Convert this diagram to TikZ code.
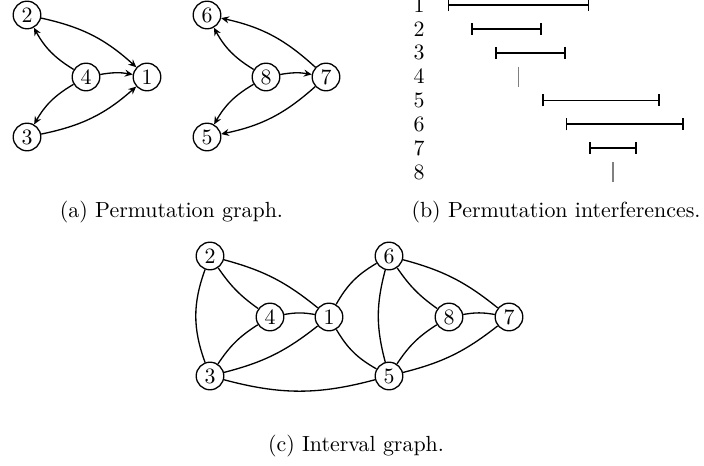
\documentclass[tikz,border=0pt]{standalone}
\usetikzlibrary{arrows.meta}
\begin{document}
\begin{tikzpicture}[x=0.4566pt,y=-0.4566pt,
  vtx/.style={draw,circle,line width=0.6pt,inner sep=0pt,minimum size=12.6pt,font=\normalsize},
  arcsty/.style={line width=0.6pt,-{Stealth[length=3.6pt,width=3.2pt,inset=1.2pt]}},
  edgsty/.style={line width=0.6pt},
  barsty/.style={line width=0.75pt,{Bar[width=5.5pt]}-{Bar[width=5.5pt]}},
  ticksty/.style={line width=0.6pt,draw=gray},
  lblsty/.style={inner sep=0pt},
  captxt/.style={inner sep=0pt}]
\useasboundingbox (0,0) rectangle (704,466);
% (a) permutation graph
\node[vtx] (a2) at (27,15) {2};
\node[vtx] (a4) at (86,77) {4};
\node[vtx] (a1) at (147,77) {1};
\node[vtx] (a3) at (27,137) {3};
\draw[arcsty] (a2) to[bend left=15] (a1);
\draw[arcsty] (a4) to[bend left=15] (a2);
\draw[arcsty] (a4) to[bend left=10] (a1);
\draw[arcsty] (a4) to[bend right=15] (a3);
\draw[arcsty] (a3) to[bend right=15] (a1);
\node[vtx] (b6) at (207,15) {6};
\node[vtx] (b8) at (266,77) {8};
\node[vtx] (b7) at (326,77) {7};
\node[vtx] (b5) at (207,137) {5};
\draw[arcsty] (b7) to[bend right=15] (b6);
\draw[arcsty] (b8) to[bend left=15] (b6);
\draw[arcsty] (b8) to[bend left=10] (b7);
\draw[arcsty] (b8) to[bend right=15] (b5);
\draw[arcsty] (b7) to[bend left=15] (b5);
\node[captxt] (capa) at (171.5,212) {(a) Permutation graph.};
% (b) interferences
\foreach \i/\s/\e in {1/0/6,2/1/4,3/2/5,5/4/9,6/5/10,7/6/8}{
  \node[lblsty] (l\i) at (419,{5+23.86*(\i-1)}) {\i};
  \coordinate (s\i) at ({447.7+23.6*\s},{5+23.86*(\i-1)});
  \coordinate (e\i) at ({447.7+23.6*\e},{5+23.86*(\i-1)});
  \draw[barsty] (s\i) -- (e\i);
}
\foreach \i/\s in {4/3,8/7}{
  \node[lblsty] (l\i) at (419,{5+23.86*(\i-1)}) {\i};
  \coordinate (t\i) at ({447.7+23.6*\s},{5+23.86*(\i-1)-10});
  \coordinate (u\i) at ({447.7+23.6*\s},{5+23.86*(\i-1)+10});
  \draw[ticksty] (t\i) -- (u\i);
}
\node[captxt] (capb) at (556,212) {(b) Permutation interferences.};
% (c) interval graph
\node[vtx] (c2) at (210,256) {2};
\node[vtx] (c4) at (270,317) {4};
\node[vtx] (c1) at (329,317) {1};
\node[vtx] (c3) at (210,376) {3};
\node[vtx] (c6) at (389,256) {6};
\node[vtx] (c8) at (449,317) {8};
\node[vtx] (c7) at (509,317) {7};
\node[vtx] (c5) at (389,376) {5};
\draw[edgsty] (c2) to[bend right=20] (c3);
\draw[edgsty] (c2) to[bend right=10] (c4);
\draw[edgsty] (c2) to[bend left=12] (c1);
\draw[edgsty] (c4) to[bend left=10] (c1);
\draw[edgsty] (c4) to[bend right=12] (c3);
\draw[edgsty] (c1) to[bend left=12] (c3);
\draw[edgsty] (c3) to[bend right=15] (c5);
\draw[edgsty] (c1) to[bend left=15] (c6);
\draw[edgsty] (c1) to[bend right=15] (c5);
\draw[edgsty] (c6) to[bend right=15] (c5);
\draw[edgsty] (c6) to[bend right=10] (c8);
\draw[edgsty] (c6) to[bend left=12] (c7);
\draw[edgsty] (c8) to[bend left=10] (c7);
\draw[edgsty] (c8) to[bend right=12] (c5);
\draw[edgsty] (c7) to[bend left=12] (c5);
\node[captxt] (capc) at (356,446) {(c) Interval graph.};
\end{tikzpicture}
\end{document}
